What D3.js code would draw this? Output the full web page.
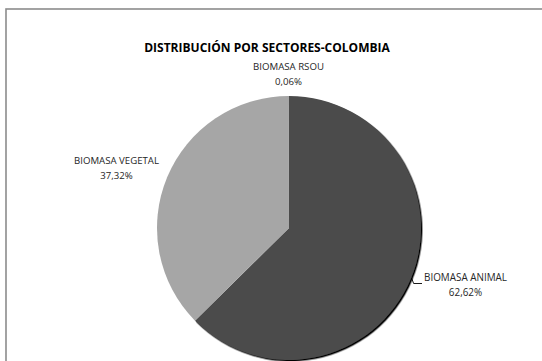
<!DOCTYPE html>
<html>
<head>
<meta charset="utf-8">
<script src="https://cdn.jsdelivr.net/npm/d3@7"></script>
<style>
  html, body { margin: 0; padding: 0; background: #fff; }
  svg { display: block; }
</style>
</head>
<body>
<script>
// Sector shares (%) of biomass potential, Colombia
const categories = ["BIOMASA ANIMAL", "BIOMASA VEGETAL", "BIOMASA RSOU"];
const values = [62.62, 37.32, 0.06];
const valueLabels = ["62,62%", "37,32%", "0,06%"];
const colors = ["#4b4b4b", "#a6a6a6", "#7a7a7a"];

const W = 542, H = 361;
const cx = 289, cy = 228, r = 132;

const svg = d3.select("body").append("svg")
  .attr("width", W).attr("height", H);

// chart frame
svg.append("rect")
  .attr("x", 6).attr("y", 9)
  .attr("width", W + 20).attr("height", H + 20)
  .attr("fill", "#fff")
  .attr("stroke", "#8c8c8c").attr("stroke-width", 1.6);

const defs = svg.append("defs");
const f = defs.append("filter").attr("id", "shadow")
  .attr("x", "-10%").attr("y", "-10%").attr("width", "120%").attr("height", "120%");
f.append("feDropShadow").attr("dx", 1.4).attr("dy", 1.4)
  .attr("stdDeviation", 0.5).attr("flood-color", "#000").attr("flood-opacity", 1);

const pie = d3.pie().sort(null).value(d => d)
  .startAngle(0).endAngle(2 * Math.PI);
const arcs = pie(values);
const arc = d3.arc().innerRadius(0).outerRadius(r);

const g = svg.append("g").attr("transform", `translate(${cx},${cy})`);
g.selectAll("path.slice")
  .data(arcs)
  .join("path")
  .attr("class", "slice")
  .attr("d", arc)
  .attr("fill", (d, i) => colors[i])
  .attr("filter", (d, i) => i === 0 ? "url(#shadow)" : null);

// title
const title = svg.append("text")
  .attr("x", 267).attr("y", 52)
  .attr("text-anchor", "middle")
  .attr("font-family", "'Open Sans', 'Liberation Sans', sans-serif")
  .attr("font-weight", "bold")
  .attr("font-size", 13)
  .attr("fill", "#000")
  .text("DISTRIBUCIÓN POR SECTORES-COLOMBIA");
function fitWidth(sel, target) {
  const w = sel.node().getComputedTextLength();
  const fs = +sel.attr("font-size");
  sel.attr("font-size", fs * target / w);
}
fitWidth(title, 246);

// data labels: [name x, name baseline, value baseline, name width]
const labelPos = [
  [465.5, 281, 296, 83],
  [116.5, 164, 179, 85],
  [288.5, 70, 85, 71]
];
categories.forEach((c, i) => {
  const [x, y1, y2, w] = labelPos[i];
  const t1 = svg.append("text")
    .attr("x", x).attr("y", y1).attr("text-anchor", "middle")
    .attr("font-family", "'Open Sans', 'Liberation Sans', sans-serif")
    .attr("font-size", 10).attr("fill", "#262626")
    .text(c);
  fitWidth(t1, w);
  const fs = t1.attr("font-size");
  svg.append("text")
    .attr("x", x).attr("y", y2).attr("text-anchor", "middle")
    .attr("font-family", "'Open Sans', 'Liberation Sans', sans-serif")
    .attr("font-size", fs).attr("fill", "#262626")
    .text(valueLabels[i]);
});

// leader line for the animal slice label, starting on the slice rim
const leaderAngle = 1.96;
const edge = [cx + Math.sin(leaderAngle) * r, cy - Math.cos(leaderAngle) * r];
svg.append("path")
  .attr("d", d3.line()([[edge[0] + 0.5, edge[1]], [edge[0] + 2.5, 283.5], [422, 283.5]]))
  .attr("fill", "none").attr("stroke", "#000").attr("stroke-width", 0.9);
</script>
</body>
</html>
